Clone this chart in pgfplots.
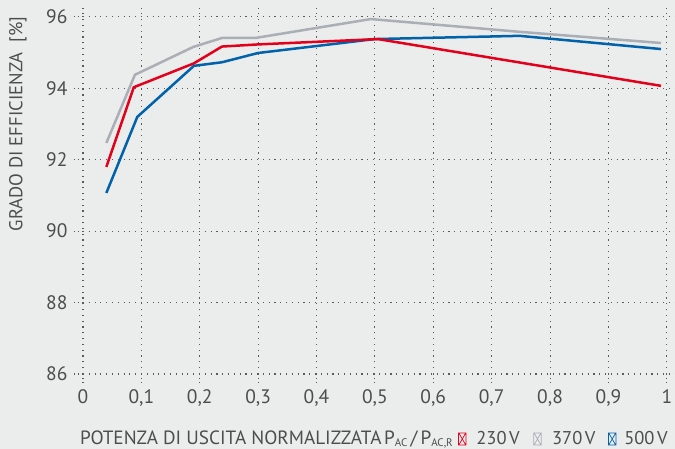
\documentclass[border=0pt]{standalone}
\usepackage{pgfplots}
\pgfplotsset{compat=1.18}
\usepackage{fontspec}
\setmainfont{PT Sans}
\usetikzlibrary{backgrounds}
\definecolor{bgc}{HTML}{EBECEC}
\definecolor{txt}{HTML}{4D4D4D}
\definecolor{gridc}{HTML}{5A5A5A}
\definecolor{cred}{HTML}{E3001B}
\definecolor{cgray}{HTML}{A9AFB5}
\definecolor{cblue}{HTML}{0062AA}
\newcommand{\lsym}[1]{\tikz[baseline=0pt]\draw[#1,line width=0.7pt] (0,0) rectangle (7.5pt,12pt) (0.7pt,0.7pt)--(6.8pt,11.3pt) (0.7pt,11.3pt)--(6.8pt,0.7pt);}
\newcommand{\sub}[1]{\raisebox{-1.5pt}{\fontsize{11}{11}\selectfont #1}}
\newcommand{\volt}[1]{{\fontsize{18.5}{20}\selectfont #1\hspace{2.5pt}V}}
\begin{document}
\begin{tikzpicture}
\begin{axis}[
  at={(0pt,0pt)}, anchor=south west,
  scale only axis, width=592pt, height=366pt,
  xmin=0, xmax=1.014, ymin=86, ymax=96.25,
  axis line style={draw=none},
  xtick={0,0.1,0.2,0.3,0.4,0.5,0.6,0.7,0.8,0.9,1},
  xticklabels={0,{0,1},{0,2},{0,3},{0,4},{0,5},{0,6},{0,7},{0,8},{0,9},1},
  ytick={86,88,90,92,94,96},
  xtick pos=bottom, ytick pos=left,
  tick align=outside, major tick length=9pt,
  grid=major,
  grid style={color=gridc, line width=1.1pt, dash pattern=on 1.1pt off 4.7pt},
  major tick style={color=gridc, line width=1.1pt, dash pattern=on 1.1pt off 3pt},
  ticklabel style={font=\fontsize{19.5}{21}\selectfont, text=txt},
  /pgf/number format/assume math mode=true,
  yticklabel style={xshift=-3pt},
  xticklabel style={yshift=-3pt},
  ylabel={GRADO DI EFFICIENZA~~[\%]},
  ylabel style={font=\fontsize{18.6}{21}\selectfont, text=txt, at={(axis description cs:-0.11,0.986)}, anchor=east},
  xlabel={\makebox[304pt][l]{POTENZA DI USCITA NORMALIZZATA}\makebox[74pt][l]{P\sub{AC}\,/\,P\sub{AC,R}}\lsym{cred}\hspace{10pt}\makebox[57pt][l]{\volt{230}}\lsym{cgray}\hspace{10.5pt}\makebox[56pt][l]{\volt{370}}\lsym{cblue}\hspace{8pt}\volt{500}},
  xlabel style={font=\fontsize{19.2}{22}\selectfont, text=txt, at={(rel axis cs:0,0)}, anchor=base west, yshift=-71pt, xshift=-3pt, inner sep=0pt},
  clip=false,
]
\addplot[cgray, line width=2.5pt] coordinates {(0.04,92.47)(0.089,94.38)(0.189,95.16)(0.238,95.41)(0.295,95.41)(0.493,95.94)(0.75,95.58)(0.99,95.27)};
\addplot[cblue, line width=2.5pt] coordinates {(0.04,91.07)(0.093,93.2)(0.19,94.63)(0.238,94.73)(0.3,94.99)(0.5,95.38)(0.748,95.47)(0.99,95.1)};
\addplot[cred, line width=2.5pt] coordinates {(0.04,91.8)(0.087,94.03)(0.19,94.7)(0.238,95.17)(0.3,95.23)(0.505,95.38)(0.99,94.07)};
\end{axis}
\begin{scope}[on background layer]
\fill[bgc] (-83pt,-75pt) rectangle (592pt,374pt);
\end{scope}
\pgfresetboundingbox
\useasboundingbox (-83pt,-75pt) rectangle (592pt,374pt);
\end{tikzpicture}
\end{document}
